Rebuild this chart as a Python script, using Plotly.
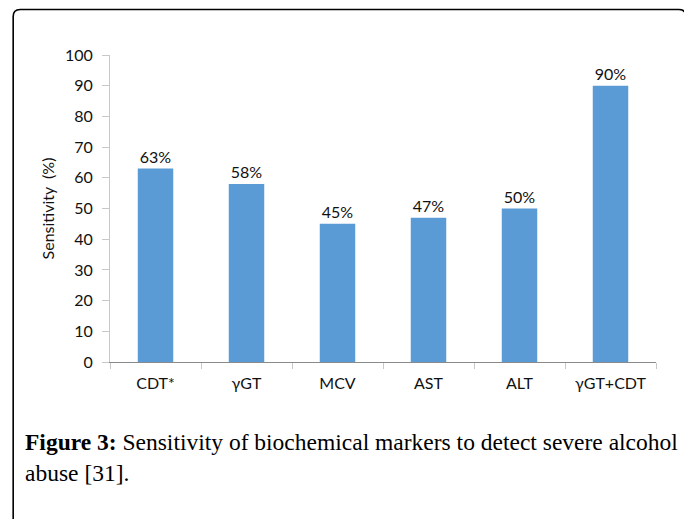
import plotly.graph_objects as go

categories = ["CDT*", "γGT", "MCV", "AST", "ALT", "γGT+CDT"]
sensitivity = [63, 58, 45, 47, 50, 90]
labels = ["63%", "58%", "45%", "47%", "50%", "90%"]
y_ticks = [0, 10, 20, 30, 40, 50, 60, 70, 80, 90, 100]

# page body has an 8px margin; work in page pixels and subtract it
OFF = 8
W, H = 692 - OFF, 519 - OFF
L, R, T, B = 109.5 - OFF, 656.5 - OFF, 55 - OFF, 362.5 - OFF
pw, ph = R - L, B - T

def px(x):
    return (x - OFF - L) / pw

def py(y):
    return (B - (y - OFF)) / ph

FONT = "Lato, Open Sans, sans-serif"
TXT = "#111111"

fig = go.Figure(go.Bar(
    x=categories, y=sensitivity, text=labels, textposition="outside",
    textfont=dict(family=FONT, size=16, color=TXT),
    marker=dict(color="#5B9BD5", line=dict(width=0)), width=0.39,
    cliponaxis=False,
))

# rounded border
x0, x1, y0, y1 = px(12.5), px(686.5), py(9.5), py(540)
rx, ry = 7 / pw, 7 / ph
path = (f"M {x0} {y1} L {x0} {y0 - ry} Q {x0} {y0} {x0 + rx} {y0} "
        f"L {x1 - rx} {y0} Q {x1} {y0} {x1} {y0 - ry} L {x1} {y1}")
fig.add_shape(type="path", path=path, xref="paper", yref="paper",
              line=dict(color="black", width=1.6))

fig.add_annotation(
    x=px(22), y=py(428), xref="paper", yref="paper", xanchor="left", yanchor="top",
    align="left", showarrow=False,
    text="<b>Figure 3:</b> Sensitivity of biochemical markers to detect severe alcohol<br>abuse [31].",
    font=dict(family="Liberation Serif, DejaVu Serif, serif", size=23.5, color="black"),
)

fig.update_layout(
    width=W, height=H,
    margin=dict(l=L, r=W - R, t=T, b=H - B, pad=0),
    paper_bgcolor="white", plot_bgcolor="white",
    showlegend=False,
    font=dict(family=FONT, size=16, color=TXT),
)
fig.update_yaxes(
    range=[0, 100], tickvals=y_ticks, showgrid=False, zeroline=False,
    showline=True, linecolor="#c8c8c8", linewidth=1,
    ticks="outside", ticklen=7, tickcolor="#c8c8c8", ticklabelstandoff=6,
    tickfont=dict(family=FONT, size=16, color=TXT),
    title=dict(text="Sensitivity  (%)", font=dict(family=FONT, size=16, color=TXT), standoff=6),
)
fig.update_xaxes(
    showgrid=False, showline=True, linecolor="#8a8a8a", linewidth=1.2,
    ticks="outside", ticklen=6, tickcolor="#c8c8c8", tickson="boundaries",
    ticklabelstandoff=7,
    tickfont=dict(family=FONT, size=16, color=TXT),
)

fig.write_html("out.html")
